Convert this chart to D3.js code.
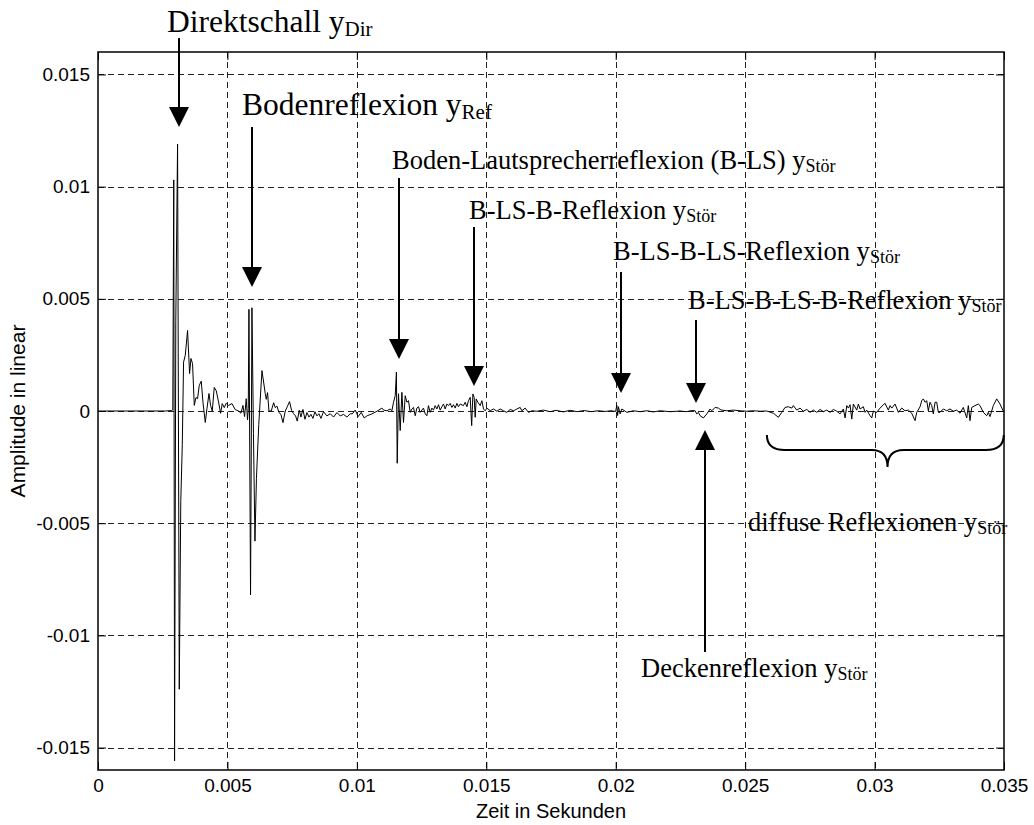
<!DOCTYPE html>
<html>
<head>
<meta charset="utf-8">
<script src="https://cdn.jsdelivr.net/npm/d3@7"></script>
<style>
  body { margin: 0; background: #fff; }
  text { fill: #000; }
</style>
</head>
<body>
<svg id="chart" width="1034" height="825"></svg>
<script>
// impulse response: [time in ms, amplitude in 1e-3]
var silence = [[0, 0], [2.60, 0], [2.83, 0.02], [2.889, 0.05]];

var directSound = [[2.927, 10.3], [2.958, -15.6], [3.005, 4.0], [3.074, 11.9], [3.140, -12.4],
  [3.198, -4.0], [3.256, -1.5], [3.306, 2.18], [3.371, 2.48], [3.460, 3.59], [3.538, 1.67],
  [3.592, 2.34], [3.653, 2.11], [3.719, 0.25], [3.785, 0.6], [3.846, 0.55], [3.912, 1.14],
  [3.989, 1.33], [4.055, 0.39], [4.144, -0.51], [4.209, 0.1], [4.287, 0.78], [4.349, 0.25],
  [4.414, 0.0], [4.491, 1.05], [4.569, 0.9], [4.657, 0.4], [4.735, -0.1], [4.800, 0.33],
  [4.878, 0.15], [4.955, 0.35], [5.044, 0.25], [5.175, 0.33], [5.302, 0.06], [5.430, 0.0],
  [5.523, -0.1], [5.600, 0.25], [5.662, -0.25], [5.727, 0.55], [5.777, -0.4], [5.805, 0.1]];

var floorReflection = [[5.831, 4.53], [5.893, -8.2], [5.947, 4.6], [6.005, -1.0], [6.063, -5.8],
  [6.121, -3.0], [6.210, -0.6], [6.334, 1.8], [6.461, 0.78], [6.500, 0.52], [6.550, 0.82],
  [6.604, 0.0], [6.693, 0.0], [6.785, 0.37], [6.847, 0.15], [6.913, 0.22], [6.991, -0.07],
  [7.067, -0.15], [7.145, -0.52], [7.234, 0.0], [7.322, 0.22], [7.400, 0.42], [7.477, 0.03],
  [7.555, -0.12], [7.633, -0.22], [7.697, -0.45], [7.774, 0.03], [7.840, -0.27], [7.917, 0.07],
  [7.995, -0.37], [8.072, -0.07], [8.149, -0.27], [8.226, -0.15], [8.303, -0.33], [8.380, -0.03],
  [8.458, -0.22], [8.535, -0.12], [8.612, -0.33], [8.713, -0.03], [8.844, -0.22], [8.971, -0.12],
  [9.099, -0.27], [9.230, -0.07], [9.358, -0.22], [9.485, -0.15], [9.616, -0.27], [9.743, -0.12],
  [9.821, -0.13], [9.937, 0.04], [10.052, -0.25], [10.168, -0.06], [10.284, -0.31], [10.400, -0.21],
  [10.582, -0.13], [10.775, -0.01], [10.968, 0.13], [11.030, 0.04], [11.161, 0.01], [11.288, 0.09],
  [11.354, 0.01], [11.416, 0.39], [11.482, 0.68]];

var speakerReflection = [[11.528, 1.73], [11.559, -2.33], [11.609, 0.77], [11.674, -0.87],
  [11.740, 0.83], [11.802, -0.51], [11.868, 0.68], [11.933, 0.39], [11.995, 0.46], [12.061, -0.06],
  [12.126, 0.09], [12.188, 0.16], [12.254, -0.21], [12.319, 0.13], [12.381, 0.19], [12.447, -0.06],
  [12.513, 0.04], [12.574, 0.13], [12.640, -0.13], [12.706, -0.21], [12.767, 0.24], [12.833, -0.06],
  [12.899, 0.13], [12.961, 0.04], [13.026, 0.24], [13.092, 0.09], [13.154, 0.28], [13.219, 0.04],
  [13.285, 0.19], [13.347, 0.31], [13.412, 0.09], [13.478, 0.31], [13.540, 0.24], [13.606, 0.34],
  [13.671, 0.16], [13.733, 0.28], [13.799, 0.13], [13.864, 0.34], [13.926, 0.19], [13.992, 0.31],
  [14.119, 0.24], [14.185, 0.39], [14.251, 0.19], [14.312, 0.46], [14.378, 0.61]];

var secondReflection = [[14.436, -0.65], [14.482, 0.76], [14.532, 0.61], [14.571, -0.28],
  [14.610, 0.54], [14.675, 0.39], [14.764, 0.24], [14.830, 0.46], [14.892, 0.09], [14.957, 0.01],
  [15.023, 0.13], [15.150, 0.01], [15.278, 0.09], [15.409, -0.01], [15.536, 0.09], [15.664, 0.01],
  [15.795, -0.06], [15.923, 0.07], [16.050, 0.01], [16.182, 0.09], [16.309, 0.16], [16.374, 0.01],
  [16.502, 0.13], [16.629, -0.06], [16.761, 0.01], [16.954, -0.01], [17.209, 0.04], [17.468, -0.03],
  [17.699, 0.03], [17.970, -0.04], [18.240, 0.03], [18.510, -0.03], [18.781, 0.02], [19.051, -0.03],
  [19.321, 0.01], [19.592, -0.02], [19.823, 0.01], [19.997, -0.02]];

var thirdReflection = [[20.043, 0.25], [20.074, -0.2], [20.105, 0.19], [20.171, -0.13],
  [20.236, 0.09], [20.430, -0.06], [20.684, 0.01], [20.943, -0.03], [21.202, 0.01], [21.457, -0.04],
  [21.716, 0.01], [22.102, -0.03], [22.488, 0.0], [22.720, -0.03], [22.951, 0.02]];

var ceilingReflection = [[23.067, 0.01], [23.133, -0.13], [23.194, -0.06], [23.260, -0.21],
  [23.387, -0.31], [23.519, -0.13], [23.646, 0.09], [23.712, 0.01], [23.839, 0.16], [23.967, 0.13],
  [24.033, 0.07], [24.098, 0.04], [24.291, 0.01], [24.546, 0.04], [24.805, 0.01], [25.064, -0.01],
  [25.319, 0.01], [25.578, -0.01], [25.836, 0.0]];

var diffuseTail = [[26.091, -0.10], [26.284, -0.28], [26.415, -0.06], [26.543, 0.16], [26.670, 0.19],
  [26.802, 0.13], [26.863, 0.24], [26.995, 0.04], [27.122, 0.13], [27.250, -0.01], [27.381, 0.07],
  [27.508, -0.06], [27.636, 0.04], [27.767, -0.06], [27.895, 0.07], [28.022, -0.03], [28.153, 0.04],
  [28.281, -0.06], [28.408, 0.07], [28.540, -0.01], [28.667, -0.13], [28.795, 0.09], [28.861, -0.31],
  [28.926, 0.24], [28.988, 0.13], [29.053, 0.28], [29.119, -0.36], [29.181, 0.31], [29.312, 0.04],
  [29.374, 0.31], [29.439, 0.09], [29.567, 0.19], [29.632, -0.06], [29.698, 0.04], [29.826, -0.21],
  [29.891, -0.31], [29.953, -0.01], [30.084, -0.06], [30.212, 0.13], [30.339, 0.28], [30.405, 0.34],
  [30.532, 0.04], [30.598, 0.24], [30.664, 0.13], [30.791, 0.31], [30.919, -0.06], [31.050, 0.13],
  [31.177, 0.01], [31.305, 0.04], [31.436, -0.10], [31.564, -0.43], [31.629, -0.06], [31.757, 0.19],
  [31.822, 0.46], [31.884, 0.54], [31.950, 0.39], [32.015, 0.46], [32.077, 0.01], [32.142, 0.39],
  [32.208, 0.24], [32.270, -0.13], [32.336, 0.39], [32.401, 0.39], [32.463, -0.06], [32.529, -0.06],
  [32.656, 0.09], [32.787, 0.01], [32.915, 0.09], [33.042, -0.01], [33.174, 0.04], [33.301, -0.10],
  [33.428, 0.16], [33.560, -0.31], [33.622, 0.24], [33.687, -0.43], [33.753, 0.16], [33.880, 0.24],
  [34.008, 0.31], [34.073, 0.24], [34.201, -0.06], [34.332, -0.21], [34.394, -0.06], [34.459, -0.25],
  [34.587, 0.24], [34.718, 0.54], [34.846, 0.31], [34.973, -0.01]];

var xTicks = [0, 0.005, 0.01, 0.015, 0.02, 0.025, 0.03, 0.035];
var xTickLabels = ['0', '0.005', '0.01', '0.015', '0.02', '0.025', '0.03', '0.035'];
var yTicks = [-0.015, -0.01, -0.005, 0, 0.005, 0.01, 0.015];
var yTickLabels = ['-0.015', '-0.01', '-0.005', '0', '0.005', '0.01', '0.015'];

// annotation layout (pixels): label, subscript, text anchor, arrow x, arrow start, arrow tip
var notes = [
  {label: 'Direktschall y', sub: 'Dir', tx: 167, ty: 32, size: 31.5, ax: 179, ay0: 38, ay1: 127},
  {label: 'Bodenreflexion y', sub: 'Ref', tx: 242, ty: 115, size: 31.5, ax: 252, ay0: 127, ay1: 287},
  {label: 'Boden-Lautsprecherreflexion (B-LS) y', sub: 'Stör', tx: 392, ty: 169, size: 26.5, ax: 399, ay0: 178, ay1: 359},
  {label: 'B-LS-B-Reflexion y', sub: 'Stör', tx: 469, ty: 219, size: 26.5, ax: 474, ay0: 227, ay1: 386},
  {label: 'B-LS-B-LS-Reflexion y', sub: 'Stör', tx: 613, ty: 260, size: 26.5, ax: 621, ay0: 272, ay1: 393},
  {label: 'B-LS-B-LS-B-Reflexion y', sub: 'Stör', tx: 688, ty: 309, size: 26.5, ax: 696, ay0: 320, ay1: 403},
  {label: 'Deckenreflexion y', sub: 'Stör', tx: 641, ty: 677, size: 26.5, ax: 705, ay0: 652, ay1: 430},
  {label: 'diffuse Reflexionen y', sub: 'Stör', tx: 748, ty: 531, size: 26.5}
];

var margin = {top: 52, right: 30, bottom: 55, left: 98};
var width = 1034, height = 825;

var svg = d3.select('#chart');

var x = d3.scaleLinear()
  .domain([0, 0.035])
  .range([margin.left, width - margin.right]);

var y = d3.scaleLinear()
  .domain([-0.016, 0.016])
  .range([height - margin.bottom, margin.top]);

var x0 = x.range()[0], x1 = x.range()[1];
var y0 = y.range()[0], y1 = y.range()[1];

// dashed grid
var grid = svg.append('g').attr('stroke', '#222').attr('stroke-width', 1)
  .attr('stroke-dasharray', '6,4').attr('fill', 'none');
grid.selectAll('.gx').data(xTicks.slice(1, -1)).enter().append('line')
  .attr('x1', function(d) { return Math.round(x(d)) + 0.5; })
  .attr('x2', function(d) { return Math.round(x(d)) + 0.5; })
  .attr('y1', y1).attr('y2', y0);
grid.selectAll('.gy').data(yTicks).enter().append('line')
  .attr('y1', function(d) { return Math.round(y(d)) + 0.5; })
  .attr('y2', function(d) { return Math.round(y(d)) + 0.5; })
  .attr('x1', x0).attr('x2', x1);

// signal
var samples = [].concat(silence, directSound, floorReflection, speakerReflection,
  secondReflection, thirdReflection, ceilingReflection, diffuseTail);

svg.append('clipPath').attr('id', 'plotclip').append('rect')
  .attr('x', x0).attr('y', y1).attr('width', x1 - x0).attr('height', y0 - y1);

svg.append('path')
  .datum(samples)
  .attr('clip-path', 'url(#plotclip)')
  .attr('fill', 'none')
  .attr('stroke', '#000')
  .attr('stroke-width', 1)
  .attr('stroke-linejoin', 'round')
  .attr('d', d3.line()
    .x(function(d) { return x(d[0] / 1000); })
    .y(function(d) { return y(d[1] / 1000); }));

// axes with inward ticks, box on all sides
var tickLen = 8;
var fmtX = function(d, i) { return xTickLabels[i]; };
var fmtY = function(d, i) { return yTickLabels[i]; };

var axB = svg.append('g').attr('transform', 'translate(0,' + y0 + ')')
  .call(d3.axisBottom(x).tickValues(xTicks).tickFormat(fmtX).tickSizeInner(-tickLen).tickSizeOuter(0).tickPadding(9));
var axT = svg.append('g').attr('transform', 'translate(0,' + y1 + ')')
  .call(d3.axisTop(x).tickValues(xTicks).tickFormat('').tickSizeInner(-tickLen).tickSizeOuter(0));
var axL = svg.append('g').attr('transform', 'translate(' + x0 + ',0)')
  .call(d3.axisLeft(y).tickValues(yTicks).tickFormat(fmtY).tickSizeInner(-tickLen).tickSizeOuter(0).tickPadding(8));
var axR = svg.append('g').attr('transform', 'translate(' + x1 + ',0)')
  .call(d3.axisRight(y).tickValues(yTicks).tickFormat('').tickSizeInner(-tickLen).tickSizeOuter(0));

[axB, axT, axL, axR].forEach(function(a) {
  a.select('.domain').remove();
  a.selectAll('line').attr('stroke', '#000');
  a.selectAll('text').attr('font-family', 'Liberation Sans, Arial, sans-serif')
    .attr('font-size', 19).attr('fill', '#000');
});

svg.append('rect')
  .attr('x', x0).attr('y', y1).attr('width', x1 - x0).attr('height', y0 - y1)
  .attr('fill', 'none').attr('stroke', '#000').attr('stroke-width', 1.5);

// axis titles
svg.append('text')
  .attr('x', (x0 + x1) / 2).attr('y', 818)
  .attr('text-anchor', 'middle')
  .attr('font-family', 'Liberation Sans, Arial, sans-serif').attr('font-size', 20)
  .text('Zeit in Sekunden');

svg.append('text')
  .attr('transform', 'translate(25,' + ((y0 + y1) / 2) + ') rotate(-90)')
  .attr('text-anchor', 'middle')
  .attr('font-family', 'Liberation Sans, Arial, sans-serif').attr('font-size', 21)
  .text('Amplitude in linear');

// annotations
var ann = svg.append('g');
notes.forEach(function(n) {
  var t = ann.append('text')
    .attr('x', n.tx).attr('y', n.ty)
    .attr('font-family', 'Liberation Serif, Times New Roman, serif')
    .attr('font-size', n.size);
  t.append('tspan').text(n.label);
  t.append('tspan').attr('font-size', Math.round(n.size * 0.68)).attr('dy', n.size * 0.12).text(n.sub);

  if (n.ax === undefined) return;
  var dir = n.ay1 > n.ay0 ? 1 : -1;
  var head = 20, half = 10;
  ann.append('line')
    .attr('x1', n.ax).attr('x2', n.ax)
    .attr('y1', n.ay0).attr('y2', n.ay1 - dir * head)
    .attr('stroke', '#000').attr('stroke-width', 2);
  ann.append('path')
    .attr('d', 'M' + (n.ax - half) + ',' + (n.ay1 - dir * head) +
      'L' + (n.ax + half) + ',' + (n.ay1 - dir * head) +
      'L' + n.ax + ',' + n.ay1 + 'Z')
    .attr('fill', '#000');
});

// curly brace under the diffuse part
var bx0 = x(0.02584), bx1 = x(0.03499), bxm = x(0.0305);
var by = 435;
ann.append('path')
  .attr('d', 'M' + bx0 + ',' + by +
    'Q' + bx0 + ',' + (by + 15) + ' ' + (bx0 + 18) + ',' + (by + 15) +
    'L' + (bxm - 16) + ',' + (by + 15) +
    'Q' + bxm + ',' + (by + 15) + ' ' + bxm + ',' + (by + 32) +
    'Q' + bxm + ',' + (by + 15) + ' ' + (bxm + 16) + ',' + (by + 15) +
    'L' + (bx1 - 18) + ',' + (by + 15) +
    'Q' + bx1 + ',' + (by + 15) + ' ' + bx1 + ',' + by)
  .attr('fill', 'none').attr('stroke', '#000').attr('stroke-width', 2);
</script>
</body>
</html>
